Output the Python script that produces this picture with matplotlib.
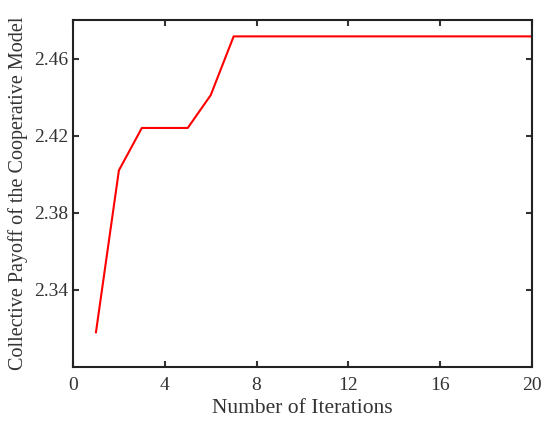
import matplotlib
matplotlib.use("Agg")
import matplotlib.pyplot as plt

iterations = list(range(1, 21))
payoff = [2.318, 2.402, 2.424, 2.424, 2.424, 2.441] + [2.4715] * 14

plt.rcParams["font.family"] = ["Liberation Serif", "DejaVu Serif"]

fig = plt.figure(figsize=(5.5, 4.22), dpi=100)
ax = fig.add_axes([73 / 550, 1 - 367 / 422, (532 - 73) / 550, (367 - 20) / 422])
ax.plot(iterations, payoff, color="red", linewidth=1.5)

ax.set_xlim(0, 20)
ax.set_ylim(2.30, 2.48)
ax.set_xticks([0, 4, 8, 12, 16, 20])
ax.set_yticks([2.34, 2.38, 2.42, 2.46])
ax.set_yticklabels(["2.34", "2.38", "2.42", "2.46"])
ax.tick_params(direction="in", top=True, right=True, labelsize=14, width=1.5, length=4, colors="#333333")
ax.tick_params(axis="x", pad=7)
for s in ax.spines.values():
    s.set_linewidth(1.5)
    s.set_color("#222222")

ax.set_xlabel("Number of Iterations", fontsize=15.5, color="#333333", labelpad=4)
ax.set_ylabel("Collective Payoff of the Cooperative Model", fontsize=14.5, color="#333333", labelpad=4)

fig.savefig("out.png", dpi=100)
